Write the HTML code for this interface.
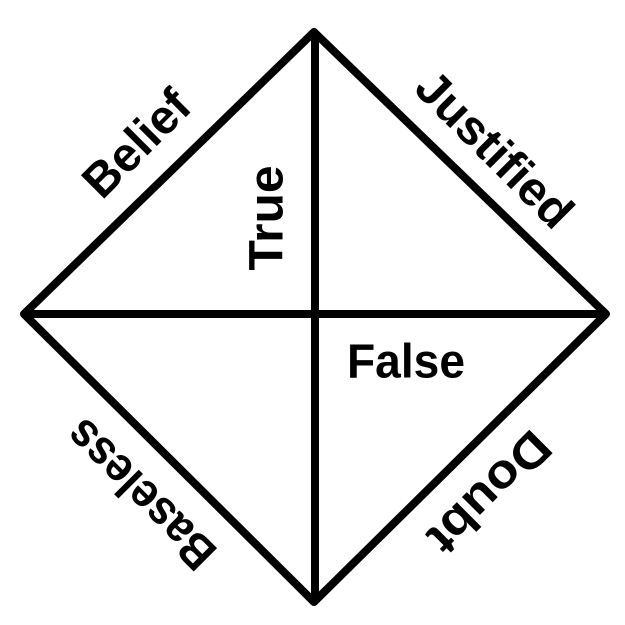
<!DOCTYPE html>
<html><head><meta charset="utf-8"><style>html,body{margin:0;padding:0;background:#fff}svg{display:block}</style></head>
<body>
<svg width="625" height="625" viewBox="0 0 625 625" xmlns="http://www.w3.org/2000/svg">
<g stroke="#000" stroke-width="8" fill="none" stroke-linejoin="round" stroke-linecap="round">
<polygon points="314,32 606,314 314,602 24,314"/>
<line x1="315" y1="34" x2="315" y2="600"/>
<line x1="26" y1="314" x2="604" y2="314"/>
</g>
<g font-family="'Liberation Sans', sans-serif" font-weight="bold" font-size="48" fill="#000" text-anchor="middle" dominant-baseline="central">
<text transform="translate(137,144) rotate(-45)" textLength="130" lengthAdjust="spacingAndGlyphs">Belief</text>
<text transform="translate(494,150) rotate(45)" textLength="200" lengthAdjust="spacingAndGlyphs">Justified</text>
<text transform="translate(267,218) rotate(-90)" textLength="105" lengthAdjust="spacingAndGlyphs">True</text>
<text x="406" y="362" textLength="118" lengthAdjust="spacingAndGlyphs">False</text>
<text transform="translate(141,494) rotate(225)" textLength="190" lengthAdjust="spacingAndGlyphs">Baseless</text>
<text transform="translate(489,492) rotate(135)" textLength="152" lengthAdjust="spacingAndGlyphs">Doubt</text>
</g>
</svg>
</body></html>
